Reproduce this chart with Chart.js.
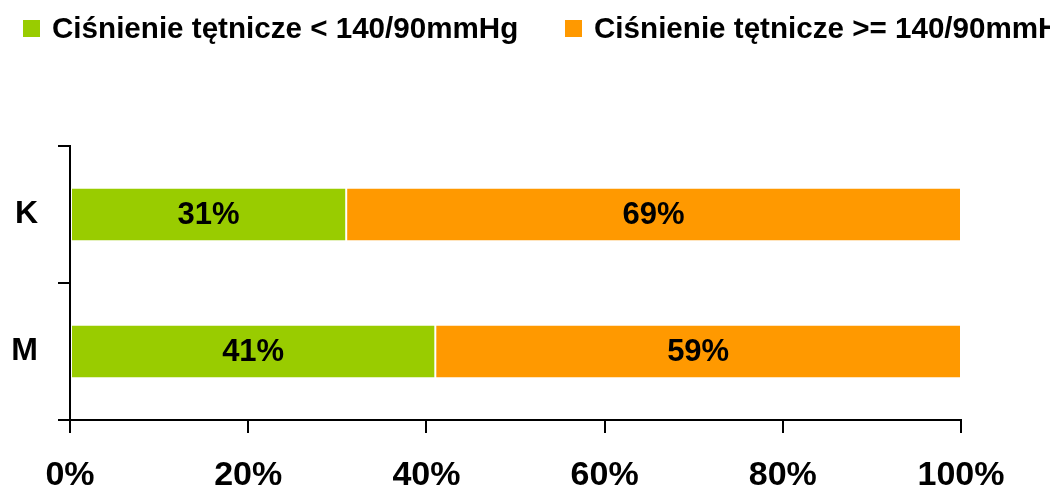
<!DOCTYPE html>
<html>
<head>
<meta charset="utf-8">
<script src="https://cdn.jsdelivr.net/npm/chart.js@4"></script>
<style>
  html, body { margin: 0; padding: 0; background: #ffffff; }
  #wrap { width: 1050px; height: 492px; position: relative; }
</style>
</head>
<body>
<div id="wrap"><canvas id="c" width="1050" height="492"></canvas></div>
<script>
// Share of blood pressure readings by sex (percent)
const categories = ['K', 'M'];
const belowLimit = [31, 41];
const aboveLimit = [69, 59];
const seriesNames = ['Ciśnienie tętnicze < 140/90mmHg', 'Ciśnienie tętnicze >= 140/90mmHg'];
const xTicks = [0, 20, 40, 60, 80, 100];

const FONT = '"Liberation Sans", Arial, sans-serif';

// Legend across the top, left to right (long text simply runs off the canvas)
const topLegend = {
  id: 'topLegend',
  afterDraw(chart) {
    const ctx = chart.ctx;
    const starts = [23, 565];
    ctx.save();
    ctx.font = 'bold 29.6px ' + FONT;
    ctx.textBaseline = 'middle';
    ctx.textAlign = 'left';
    chart.data.datasets.forEach((ds, i) => {
      const x = starts[i];
      ctx.fillStyle = ds.backgroundColor;
      ctx.fillRect(x, 20, 17, 17);
      ctx.fillStyle = '#000000';
      ctx.fillText(ds.label, x + 29, 30);
    });
    ctx.restore();
  }
};

// Value labels centred inside each bar segment
const barValues = {
  id: 'barValues',
  afterDatasetsDraw(chart) {
    const ctx = chart.ctx;
    ctx.save();
    ctx.font = 'bold 31px ' + FONT;
    ctx.fillStyle = '#000000';
    ctx.textAlign = 'center';
    ctx.textBaseline = 'middle';
    chart.data.datasets.forEach((ds, di) => {
      chart.getDatasetMeta(di).data.forEach((bar, i) => {
        const p = bar.getProps(['x', 'y', 'base'], true);
        ctx.fillText(ds.data[i] + '%', (p.x + p.base) / 2, p.y + 1);
      });
    });
    ctx.restore();
  }
};

new Chart(document.getElementById('c'), {
  type: 'bar',
  data: {
    labels: categories,
    datasets: [
      {
        label: seriesNames[0],
        data: belowLimit,
        backgroundColor: '#99CC00',
        borderColor: 'rgba(255,255,255,0.75)',
        borderWidth: 1,
        borderSkipped: false,
        categoryPercentage: 1,
        barPercentage: 0.39
      },
      {
        label: seriesNames[1],
        data: aboveLimit,
        backgroundColor: '#FF9900',
        borderColor: 'rgba(255,255,255,0.75)',
        borderWidth: 1,
        borderSkipped: false,
        categoryPercentage: 1,
        barPercentage: 0.39
      }
    ]
  },
  options: {
    indexAxis: 'y',
    responsive: false,
    animation: false,
    layout: { padding: { top: 146, right: 89, bottom: 0, left: 0 } },
    plugins: {
      legend: { display: false },
      tooltip: { enabled: false }
    },
    scales: {
      x: {
        stacked: true,
        min: 0,
        max: 100,
        afterBuildTicks(scale) {
          scale.ticks = xTicks.map(v => ({ value: v }));
        },
        afterFit(scale) { scale.height = 72; },
        border: { display: true, color: '#000000', width: 2 },
        grid: {
          drawOnChartArea: false,
          drawTicks: true,
          tickLength: 13,
          color: '#000000',
          lineWidth: 2
        },
        ticks: {
          color: '#000000',
          font: { family: FONT, size: 34, weight: 'bold' },
          padding: 22,
          maxRotation: 0,
          callback: v => v + '%'
        }
      },
      y: {
        stacked: true,
        afterFit(scale) { scale.width = 70; },
        border: { display: true, color: '#000000', width: 2 },
        grid: {
          offset: true,
          drawOnChartArea: false,
          drawTicks: true,
          tickLength: 12,
          color: '#000000',
          lineWidth: 2
        },
        ticks: {
          color: '#000000',
          font: { family: FONT, size: 32, weight: 'bold' },
          padding: 20
        }
      }
    }
  },
  plugins: [topLegend, barValues]
});
</script>
</body>
</html>
